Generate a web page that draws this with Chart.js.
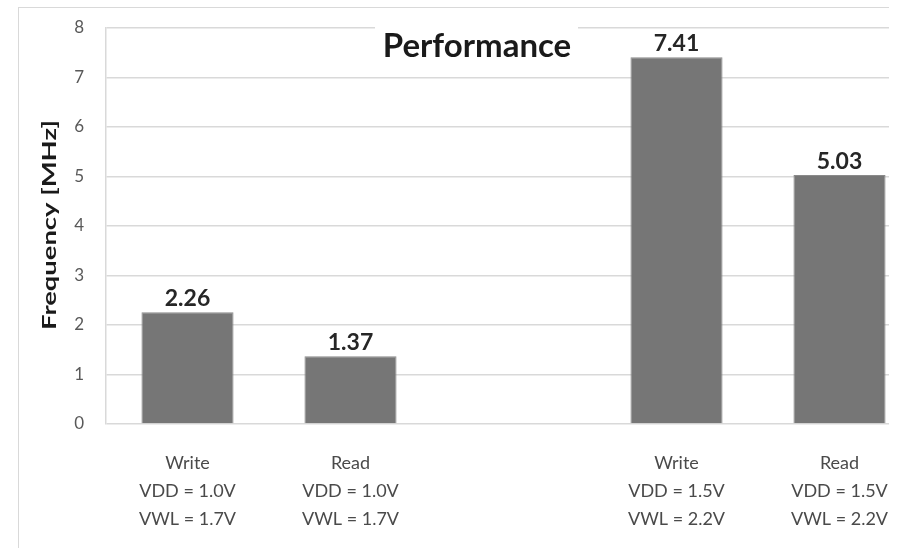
<!DOCTYPE html>
<html>
<head>
<meta charset="utf-8">
<script src="https://cdn.jsdelivr.net/npm/chart.js@4.4.1/dist/chart.umd.min.js"></script>
<style>
  html, body { margin: 0; padding: 0; background: #fff; overflow: hidden; }
  #frame {
    position: absolute; left: 18px; top: 7px; width: 870px; height: 541px;
    border-top: 1px solid #d9d9d9; border-left: 1px solid #d9d9d9;
    overflow: hidden;
  }
  #chart { position: absolute; left: -19px; top: -8px; }
</style>
</head>
<body>
<div id="frame"><canvas id="chart" width="925" height="548"></canvas></div>
<script>
// values
var operations = ["Write", "Read", "", "Write", "Read"];
var vddLabels = ["VDD = 1.0V", "VDD = 1.0V", "", "VDD = 1.5V", "VDD = 1.5V"];
var vwlLabels = ["VWL = 1.7V", "VWL = 1.7V", "", "VWL = 2.2V", "VWL = 2.2V"];
var frequency = [2.26, 1.37, null, 7.41, 5.03];
var yTicks = [0, 1, 2, 3, 4, 5, 6, 7, 8];

var chartTitle = "Performance";
var yTitle = "Frequency [MHz]";

var labels = operations.map(function (op, i) {
  return [op, vddLabels[i], vwlLabels[i]];
});

var FONT = "Lato, 'Open Sans', sans-serif";

// value above each bar
var valueLabels = {
  id: "valueLabels",
  afterDatasetsDraw: function (chart) {
    var ctx = chart.ctx;
    var meta = chart.getDatasetMeta(0);
    ctx.save();
    ctx.font = "bold 23px " + FONT;
    ctx.fillStyle = "#262626";
    ctx.textAlign = "center";
    ctx.textBaseline = "alphabetic";
    meta.data.forEach(function (bar, i) {
      var v = frequency[i];
      if (v === null) return;
      ctx.fillText(v.toFixed(2), bar.x, bar.y - 6);
    });
    ctx.restore();
  }
};

// title box sitting on the top gridline, and a stretched axis title
var titles = {
  id: "titles",
  afterDraw: function (chart) {
    var ctx = chart.ctx;
    ctx.save();
    ctx.fillStyle = "#fff";
    ctx.fillRect(375, 18, 203, 20);
    ctx.font = "bold 33px " + FONT;
    ctx.fillStyle = "#1a1a1a";
    ctx.textAlign = "center";
    ctx.textBaseline = "alphabetic";
    ctx.fillText(chartTitle, 477, 57);

    ctx.font = "bold 18px " + FONT;
    var w = ctx.measureText(yTitle).width;
    ctx.translate(50, 225);
    ctx.rotate(-Math.PI / 2);
    ctx.scale(210 / w, 1);
    ctx.textBaseline = "middle";
    ctx.fillStyle = "#1a1a1a";
    ctx.fillText(yTitle, 0, 0);
    ctx.restore();
  }
};

new Chart(document.getElementById("chart"), {
  type: "bar",
  data: {
    labels: labels,
    datasets: [{
      label: yTitle,
      data: frequency,
      backgroundColor: "#767676",
      borderColor: "#8a8a8a",
      borderWidth: 1,
      categoryPercentage: 1,
      barPercentage: 0.565
    }]
  },
  options: {
    responsive: false,
    animation: false,
    layout: { padding: { top: 28, right: 4, left: 0, bottom: 0 } },
    plugins: {
      legend: { display: false },
      tooltip: { enabled: false },
      title: { display: false }
    },
    scales: {
      x: {
        grid: { display: false, drawTicks: false },
        border: { display: false },
        ticks: {
          padding: 25,
          maxRotation: 0,
          autoSkip: false,
          color: "#4a4a4a",
          font: { family: FONT, size: 18, lineHeight: 1.55 }
        },
        afterFit: function (scale) {
          scale.height = 124;
          scale.paddingLeft = 0;
          scale.paddingRight = 0;
        }
      },
      y: {
        min: 0,
        max: 8,
        afterBuildTicks: function (scale) {
          scale.ticks = yTicks.map(function (v) { return { value: v }; });
        },
        grid: { color: "#d9d9d9", lineWidth: 1.5, drawTicks: false },
        border: { display: true, color: "#d9d9d9", width: 1.5 },
        ticks: {
          padding: 22,
          color: "#595959",
          font: { family: FONT, size: 17 }
        },
        afterFit: function (scale) {
          scale.width = 106;
          scale.paddingTop = 0;
          scale.paddingBottom = 0;
        }
      }
    }
  },
  plugins: [valueLabels, titles]
});
</script>
</body>
</html>
